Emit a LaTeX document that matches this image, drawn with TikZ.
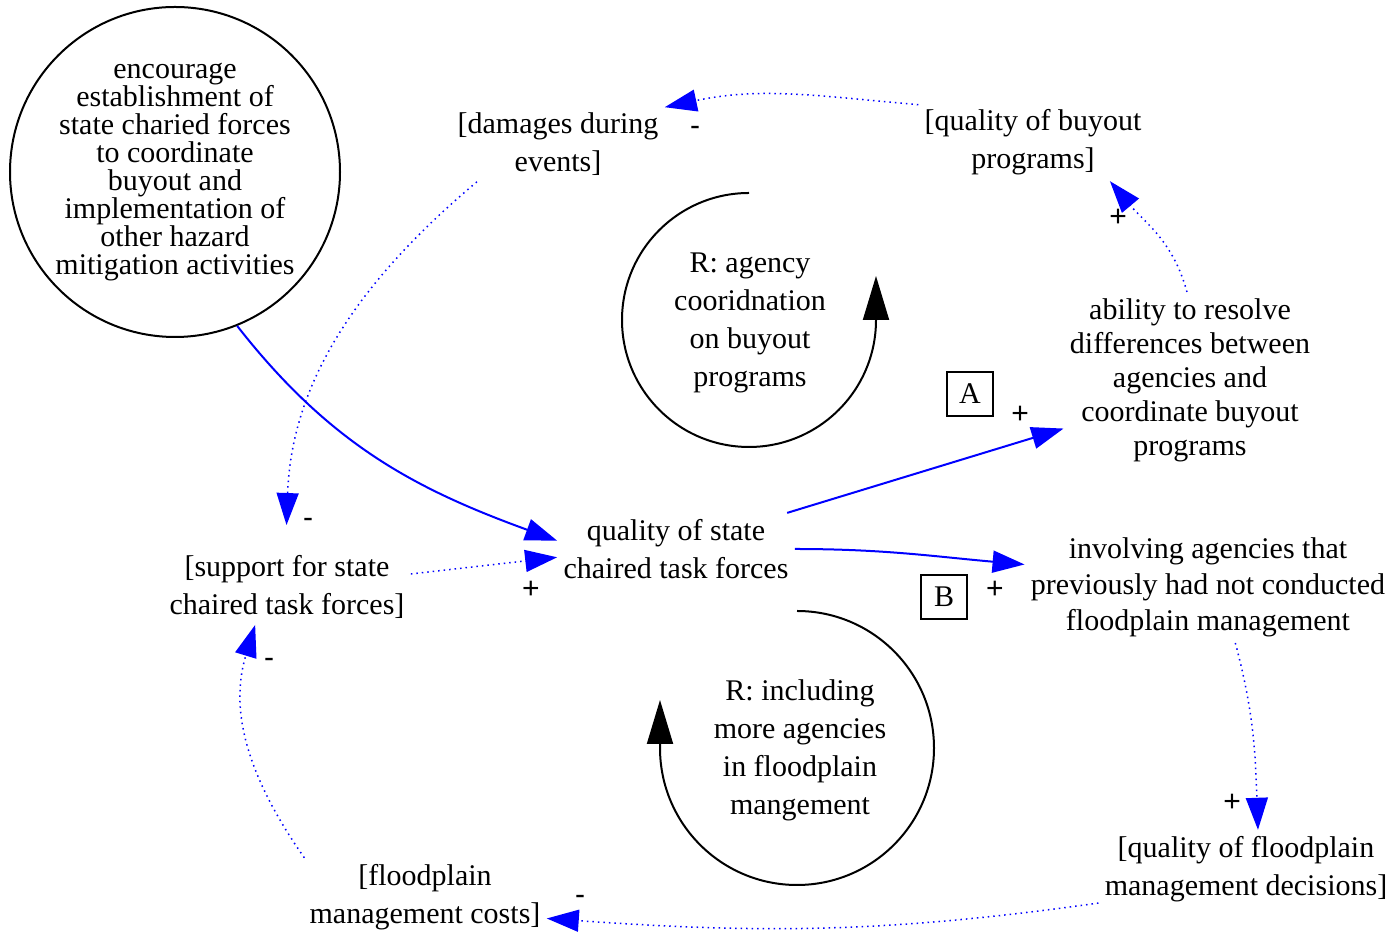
\documentclass[tikz,border=0pt]{standalone}
\usepackage{fontspec}
\setmainfont{Liberation Serif}
\newfontfamily\signfont{Liberation Sans}
\usetikzlibrary{arrows.meta}

\begin{document}
\begin{tikzpicture}[x=0.5pt, y=0.5pt,
    var/.style={align=center, inner sep=3pt, font=\fontsize{15}{19}\selectfont},
    link/.style={blue, line width=1pt, -{Triangle[length=16pt,width=11pt]}},
    dotlink/.style={link, line width=0.75pt, dotted},
    sign/.style={inner sep=0pt, font=\signfont\fontsize{15}{18}\selectfont},
    loopmark/.style={black, line width=1pt, -{Triangle[length=22pt,width=13pt]}},
    tag/.style={draw, line width=0.8pt, minimum width=23pt, minimum height=22pt, inner sep=0pt, font=\fontsize{15}{18}\selectfont}]
      \useasboundingbox (0,0) rectangle (1393,936);
      \node[circle, draw, line width=1pt, minimum size=165pt, inner sep=0pt, align=center,
        font=\fontsize{15}{14}\selectfont] (enc) at (175,764)
        {encourage\\establishment of\\state charied forces\\to coordinate\\buyout and\\implementation of\\other hazard\\mitigation activities};
      \node[var] (dmg) at (558,792) {[damages during\\events]};
      \node[var] (qbuy) at (1033,794) {[quality of buyout\\programs]};
      \node[var] (qst) at (676,387) {quality of state\\chaired task forces};
      \node[var] (sup) at (287,349) {[support for state\\chaired task forces]};
      \node[var, font=\fontsize{15}{17}\selectfont] (abil) at (1190,556)
        {ability to resolve\\differences between\\agencies and\\coordinate buyout\\programs};
      \node[var, font=\fontsize{15}{18}\selectfont] (inv) at (1208,349)
        {involving agencies that\\previously had not conducted\\floodplain management};
      \node[var] (qfp) at (1246,67) {[quality of floodplain\\management decisions]};
      \node[var] (fcost) at (425,39) {[floodplain\\management costs]};
      \node[var] (rone) at (750,613) {R: agency\\cooridnation\\on buyout\\programs};
      \node[var] (rtwo) at (800,186) {R: including\\more agencies\\in floodplain\\mangement};
      \node[tag] (ta) at (970,542) {A};
      \node[tag] (tb) at (944,339) {B};

      \coordinate (cone) at (749,616);
      \coordinate (ctwo) at (797,188);
      \draw[loopmark] (cone) ++(0,127) arc (90:360:127) -- ++(0,44);
      \draw[loopmark] (ctwo) ++(0,137) arc (90:-180:137) -- ++(0,48);

      \draw[link] (enc.-68) to[out=-52, in=160] (qst.176);
      \draw[dotlink] (sup.6) -- (qst.184);
      \draw[dotlink, shorten >=12pt] (dmg.205) to[out=-140, in=88] (sup.92);
      \draw[dotlink] (qbuy.162) to[out=175, in=12] (dmg.19);
      \draw[dotlink] (abil.92) to[out=105, in=-50] (qbuy.-27);
      \draw[link] (qst.18) -- (abil.201);
      \draw[link] (qst.east) to[out=0, in=175] (inv.173);
      \draw[dotlink] (inv.-64) to[out=-75, in=92] (qfp.73);
      \draw[dotlink] (qfp.193) to[out=188, in=-4] (fcost.-10);
      \draw[dotlink] (fcost.162) to[out=125, in=-107] (sup.230);

      \node[sign] (mone) at (695,805) {-};
      \node[sign] (pone) at (1118,718) {+};
      \node[sign] (ptwo) at (1020,521) {+};
      \node[sign] (pthree) at (995,346) {+};
      \node[sign] (mtwo) at (308,413) {-};
      \node[sign] (pfour) at (531,346) {+};
      \node[sign] (mthree) at (269,273) {-};
      \node[sign] (pfive) at (1232,133) {+};
      \node[sign] (mfour) at (580,36) {-};
    \end{tikzpicture}
\end{document}
